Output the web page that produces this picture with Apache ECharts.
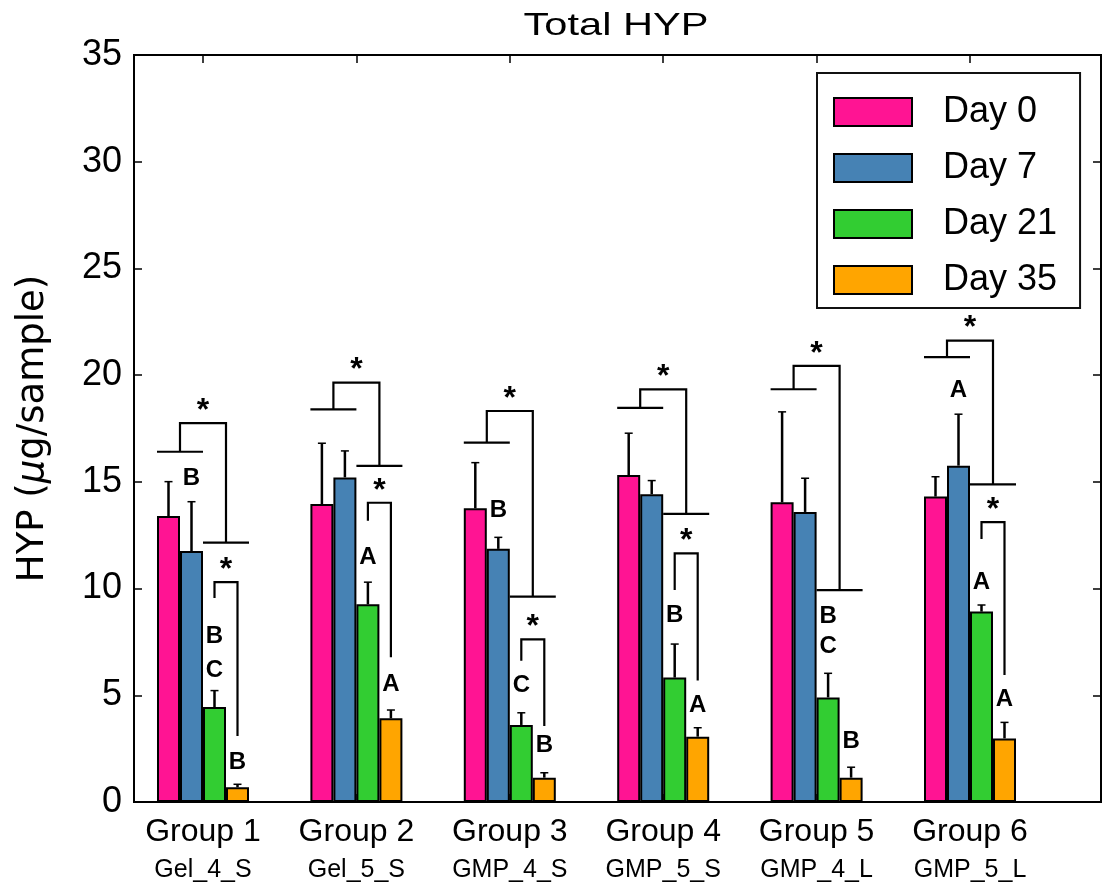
<!DOCTYPE html>
<html>
<head>
<meta charset="utf-8">
<title>Total HYP</title>
<script src="https://cdn.jsdelivr.net/npm/echarts@6/dist/echarts.min.js"></script>
<style>
  html, body { margin: 0; padding: 0; background: #fff; }
  #chart { width: 1102px; height: 894px; }
</style>
</head>
<body>
<div id="chart"></div>
<script>
// Groups and sample codes on the x axis
const groupNames = ['Group 1', 'Group 2', 'Group 3', 'Group 4', 'Group 5', 'Group 6'];
const sampleNames = ['Gel_4_S', 'Gel_5_S', 'GMP_4_S', 'GMP_5_S', 'GMP_4_L', 'GMP_5_L'];
const dayNames = ['Day 0', 'Day 7', 'Day 21', 'Day 35'];

// Mean HYP (µg/sample) per time point
const day0 = [13.40, 13.96, 13.76, 15.32, 14.04, 14.31];
const day7 = [11.76, 15.21, 11.86, 14.42, 13.59, 15.76];
const day21 = [4.45, 9.26, 3.61, 5.83, 4.90, 8.92];
const day35 = [0.69, 3.92, 1.14, 3.06, 1.14, 2.98];

// Upper error (SD) per time point
const day0Err = [1.61, 2.85, 2.14, 1.96, 4.24, 0.93];
const day7Err = [2.31, 1.24, 0.54, 0.64, 1.58, 2.41];
const day21Err = [0.77, 1.04, 0.57, 1.57, 1.13, 0.31];
const day35Err = [0.14, 0.39, 0.23, 0.42, 0.49, 0.75];

// Y axis range
const yMin = 0, yMax = 35, yStep = 5;

// Significance brackets, in data units: [left foot, top, right foot]
// Outer: Day 0/7 pair vs Day 21/35 pair
const outerBrackets = [
  [16.41, 17.75, 12.15],
  [18.40, 19.65, 15.75],
  [16.84, 18.32, 9.62],
  [18.47, 19.33, 13.50],
  [19.34, 20.43, 9.93],
  [20.84, 21.62, 14.88]
];
// Inner: Day 21 vs Day 35
const innerBrackets = [
  [9.56, 10.30, 3.09],
  [13.18, 14.02, 6.78],
  [6.62, 7.62, 3.56],
  [9.93, 11.65, 5.69],
  null,
  [12.32, 13.11, 5.95]
];

// Group letters: [group, time point, letter, height]
const letterMarks = [
  [0, 1, 'B', 15.14], [0, 2, 'B', 7.75], [0, 2, 'C', 6.19], [0, 3, 'B', 1.86],
  [1, 2, 'A', 11.45], [1, 3, 'A', 5.53],
  [2, 1, 'B', 13.68], [2, 2, 'C', 5.48], [2, 3, 'B', 2.67],
  [3, 2, 'B', 8.76], [3, 3, 'A', 4.55],
  [4, 2, 'B', 8.72], [4, 2, 'C', 7.28], [4, 3, 'B', 2.83],
  [5, 1, 'A', 19.27], [5, 2, 'A', 10.28], [5, 3, 'A', 4.81]
];

const dayColors = ['#FF1493', '#4682B4', '#32CD32', '#FFA500'];
const BAR_W = 23;

const means = [day0, day7, day21, day35];
const errs = [day0Err, day7Err, day21Err, day35Err];

const chart = echarts.init(document.getElementById('chart'), null, { renderer: 'canvas' });

function barX(api, g, k) {
  const ctr = api.coord([g, 0])[0];
  return ctr + (k - 1.5) * BAR_W;
}

function renderErrorBar(params, api) {
  const g = api.value(0), k = api.value(1), v = api.value(2), e = api.value(3);
  const x = barX(api, g, k);
  const y0 = api.coord([g, v])[1];
  const y1 = api.coord([g, v + e])[1];
  return {
    type: 'group',
    children: [
      { type: 'line', shape: { x1: x, y1: y0, x2: x, y2: y1 }, style: { stroke: '#000', lineWidth: 2.5 } },
      { type: 'line', shape: { x1: x - 4, y1: y1, x2: x + 4, y2: y1 }, style: { stroke: '#000', lineWidth: 1.5 } }
    ]
  };
}

function starText(x, y, size) {
  return {
    type: 'text', x: x, y: y,
    style: { text: '*', fill: '#000', font: 'bold ' + size + 'px "Liberation Sans", Arial, sans-serif', align: 'center', verticalAlign: 'middle' }
  };
}

function renderBrackets(params, api) {
  const g = params.dataIndex;
  const yp = v => api.coord([g, v])[1];
  const x = k => barX(api, g, k);
  const line = { stroke: '#000', lineWidth: 2.2, fill: null };
  const children = [];
  const ob = outerBrackets[g];
  const xl = (x(0) + x(1)) / 2, xr = (x(2) + x(3)) / 2;
  children.push({ type: 'line', shape: { x1: x(0) - BAR_W / 2, y1: yp(ob[0]), x2: x(1) + BAR_W / 2, y2: yp(ob[0]) }, style: line });
  children.push({ type: 'polyline', shape: { points: [[xl, yp(ob[0])], [xl, yp(ob[1])], [xr, yp(ob[1])], [xr, yp(ob[2])]] }, style: line });
  children.push({ type: 'line', shape: { x1: x(2) - BAR_W / 2, y1: yp(ob[2]), x2: x(3) + BAR_W / 2, y2: yp(ob[2]) }, style: line });
  children.push(starText((xl + xr) / 2, yp(ob[1]) - 12, 32));
  const ib = innerBrackets[g];
  if (ib) {
    children.push({ type: 'polyline', shape: { points: [[x(2), yp(ib[0])], [x(2), yp(ib[1])], [x(3), yp(ib[1])], [x(3), yp(ib[2])]] }, style: line });
    children.push(starText((x(2) + x(3)) / 2, yp(ib[1]) - 12, 32));
  }
  letterMarks.forEach(m => {
    if (m[0] !== g) return;
    children.push({
      type: 'text', x: x(m[1]), y: yp(m[3]),
      style: { text: m[2], fill: '#000', font: 'bold 24px "Liberation Sans", Arial, sans-serif', align: 'center', verticalAlign: 'middle' }
    });
  });
  return { type: 'group', children: children };
}

const errorData = [];
means.forEach((arr, k) => arr.forEach((v, g) => errorData.push([g, k, v, errs[k][g]])));

const axisFont = '"Liberation Sans", Arial, sans-serif';

const barSeries = dayNames.map((name, k) => ({
  name: name,
  type: 'bar',
  xAxisIndex: 0,
  yAxisIndex: 0,
  barWidth: BAR_W,
  barGap: '0%',
  data: means[k],
  itemStyle: { color: dayColors[k], borderColor: '#000', borderWidth: 2 },
  emphasis: { disabled: true },
  z: 2
}));

const option = {
  animation: false,
  backgroundColor: '#fff',
  graphic: [{
    type: 'text', x: 616, y: 26, scaleX: 1.3,
    style: { text: 'Total HYP', fill: '#000', font: '32px "Liberation Sans", Arial, sans-serif', align: 'center', verticalAlign: 'middle' }
  }],
  legend: {
    orient: 'vertical',
    left: 817, top: 73,
    data: dayNames,
    icon: 'rect',
    itemWidth: 78, itemHeight: 28, itemGap: 20,
    padding: [21, 23, 10, 16],
    borderColor: '#111', borderWidth: 2,
    backgroundColor: '#fff',
    selectedMode: false,
    itemStyle: { borderColor: '#000', borderWidth: 2 },
    textStyle: { fontSize: 36, fontFamily: axisFont, color: '#000', padding: [0, 0, 0, 26] }
  },
  grid: [
    { left: 126.3, width: 920.4, top: 55, bottom: 92, show: false },
    { left: 134, right: 1, top: 55, bottom: 92, show: true, borderColor: '#000', borderWidth: 2, backgroundColor: 'transparent' }
  ],
  xAxis: [
    {
      type: 'category', gridIndex: 0, data: groupNames, position: 'bottom',
      axisLine: { show: false },
      axisTick: { show: true, inside: true, alignWithLabel: true, length: 8, lineStyle: { color: '#000', width: 1.5 } },
      axisLabel: {
        margin: 10, interval: 0,
        formatter: (v, i) => '{g|' + v + '}\n{s|' + sampleNames[i] + '}',
        rich: {
          g: { fontSize: 32, fontFamily: axisFont, color: '#000', lineHeight: 40 },
          s: { fontSize: 25, fontFamily: axisFont, color: '#000', lineHeight: 36 }
        }
      }
    },
    {
      type: 'value', gridIndex: 1, show: false, min: 0, max: 1
    },
    {
      type: 'category', gridIndex: 0, data: groupNames, position: 'top',
      axisLine: { show: false },
      axisLabel: { show: false },
      axisTick: { show: true, inside: true, alignWithLabel: true, length: 8, lineStyle: { color: '#000', width: 1.5 } }
    }
  ],
  yAxis: [
    { type: 'value', gridIndex: 0, min: yMin, max: yMax, interval: yStep, show: false },
    {
      type: 'value', gridIndex: 1, position: 'left', min: yMin, max: yMax, interval: yStep,
      axisLine: { show: false },
      axisTick: { show: true, inside: true, length: 8, lineStyle: { color: '#000', width: 1.5 } },
      splitLine: { show: false },
      axisLabel: { margin: 12, fontSize: 36, fontFamily: axisFont, color: '#000' },
      name: 'HYP ({i|μ}g/sample)',
      nameLocation: 'middle',
      nameGap: 82,
      nameRotate: 90,
      nameTextStyle: {
        fontSize: 37, fontFamily: '"DejaVu Sans", sans-serif', color: '#000',
        rich: { i: { fontSize: 37, fontFamily: '"DejaVu Sans", sans-serif', fontStyle: 'italic', color: '#000' } }
      }
    },
    {
      type: 'value', gridIndex: 1, position: 'right', min: yMin, max: yMax, interval: yStep,
      axisLine: { show: false },
      axisTick: { show: true, inside: true, length: 8, lineStyle: { color: '#000', width: 1.5 } },
      axisLabel: { show: false },
      splitLine: { show: false }
    }
  ],
  series: barSeries.concat([
    {
      name: 'error',
      type: 'custom',
      xAxisIndex: 0, yAxisIndex: 0,
      renderItem: renderErrorBar,
      encode: { x: 0, y: 2 },
      data: errorData,
      clip: false,
      silent: true,
      z: 3
    },
    {
      name: 'annotations',
      type: 'custom',
      xAxisIndex: 0, yAxisIndex: 0,
      renderItem: renderBrackets,
      encode: { x: 0, y: 1 },
      data: groupNames.map((_, i) => [i, 0]),
      clip: false,
      silent: true,
      z: 4
    }
  ])
};

chart.setOption(option);
</script>
</body>
</html>
